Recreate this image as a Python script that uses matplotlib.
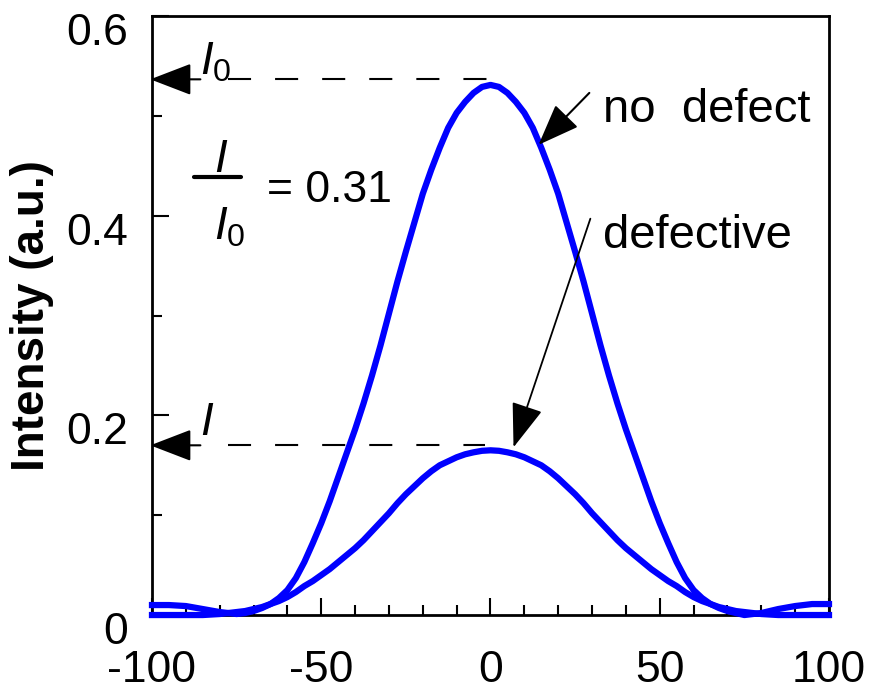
import numpy as np
import matplotlib
matplotlib.use("Agg")
import matplotlib.pyplot as plt
from matplotlib.ticker import MultipleLocator
import matplotlib.transforms as mtransforms

plt.rcParams['font.family'] = ['Liberation Sans', 'DejaVu Sans']
plt.rcParams['mathtext.fontset'] = 'custom'
plt.rcParams['mathtext.rm'] = 'Liberation Sans'
plt.rcParams['mathtext.it'] = 'Liberation Sans:italic'
plt.rcParams['lines.scale_dashes'] = False

# position (x axis) (denser where the curves bend)
position = [-100, -95, -90, -85, -80, -75, -72.5, -70, -67.5, -65, -62.5, -60,
            -57.5, -55, -52.5, -50, -47.5, -45, -42.5, -40, -37.5, -35, -32.5,
            -30, -27.5, -25, -22.5, -20, -17.5, -15, -12.5, -10, -7.5, -5, -2.5,
            0, 2.5, 5, 7.5, 10, 12.5, 15, 17.5, 20, 22.5, 25, 27.5, 30, 32.5,
            35, 37.5, 40, 42.5, 45, 47.5, 50, 52.5, 55, 57.5, 60, 62.5, 65,
            67.5, 70, 72.5, 75, 80, 85, 90, 95, 100]

no_defect = [0.010, 0.010, 0.009, 0.006, 0.003, 0.001, 0.002, 0.004, 0.007, 0.011, 0.017, 0.025,
             0.037, 0.053, 0.072, 0.092, 0.114, 0.138, 0.162, 0.186, 0.212, 0.240, 0.270,
             0.302, 0.334, 0.364, 0.393, 0.422, 0.446, 0.468, 0.488, 0.503, 0.514, 0.523, 0.529,
             0.531, 0.529, 0.523, 0.514, 0.503, 0.488, 0.468, 0.446, 0.422, 0.393, 0.364, 0.334, 0.302, 0.270,
             0.240, 0.212, 0.186, 0.162, 0.138, 0.114, 0.092, 0.072, 0.053, 0.037, 0.025, 0.017, 0.011,
             0.007, 0.004, 0.002, 0.000, 0.002, 0.006, 0.009, 0.011, 0.011]

defective = [0.000, 0.000, 0.000, 0.000, 0.001, 0.003, 0.004, 0.006, 0.008, 0.011, 0.014, 0.018,
             0.023, 0.029, 0.034, 0.040, 0.046, 0.053, 0.060, 0.067, 0.075, 0.084, 0.093,
             0.102, 0.112, 0.121, 0.129, 0.137, 0.144, 0.150, 0.154, 0.158, 0.161, 0.163, 0.1645,
             0.165, 0.1645, 0.163, 0.161, 0.158, 0.154, 0.150, 0.144, 0.137, 0.129, 0.121, 0.112, 0.102, 0.093,
             0.084, 0.075, 0.067, 0.060, 0.053, 0.046, 0.040, 0.034, 0.029, 0.023, 0.018, 0.014, 0.011,
             0.008, 0.006, 0.004, 0.003, 0.001, 0.000, 0.000, 0.000, 0.000]

I0_level = 0.5366
I_level = 0.170

x_ticks = [-100, -50, 0, 50, 100]
x_tick_labels = ['-100', '-50', '0', '50', '100']
y_ticks = [0, 0.2, 0.4, 0.6]
y_tick_labels = ['0', '0.2', '0.4', '0.6']

fig = plt.figure(figsize=(8.73, 6.97), dpi=100)
ax = fig.add_axes([0.1741, 0.1176, 0.7755, 0.8594])

blue = '#0000ff'
ax.plot(position, no_defect, color=blue, lw=4.5, clip_on=False, zorder=3)
ax.plot(position, defective, color=blue, lw=4.5, clip_on=False, zorder=3)

ax.set_xlim(-100, 100)
ax.set_ylim(0, 0.6)

ax.set_xticks(x_ticks)
ax.set_xticklabels(x_tick_labels)
ax.set_yticks(y_ticks)
ax.set_yticklabels(y_tick_labels)
ax.xaxis.set_minor_locator(MultipleLocator(10))
ax.yaxis.set_minor_locator(MultipleLocator(0.1))
ax.tick_params(which='both', direction='in', width=1.5, labelsize=32)
ax.tick_params(which='major', length=12)
ax.tick_params(which='minor', length=7)
ax.tick_params(axis='y', pad=17)
ax.tick_params(axis='x', pad=25)
for s in ax.spines.values():
    s.set_linewidth(2)

ax.set_ylabel('Intensity (a.u.)', fontsize=33, fontweight='bold', labelpad=9)

# dashed guide lines
dash = (0, (16.6, 17.3))
ax.plot([-77.4, -1.0], [I0_level, I0_level], color='k', lw=1.5, linestyle=dash)
ax.plot([-77.4, -1.5], [I_level, I_level], color='k', lw=1.5, linestyle=dash)

head = '-|>,head_length=2.6,head_width=1.0'
ap = dict(arrowstyle=head, color='k', lw=1.5, shrinkA=0, shrinkB=0, mutation_scale=10)
ax.annotate('', xy=(-100.5, I0_level), xytext=(-85.7, I0_level), arrowprops=ap, annotation_clip=False)
ax.annotate('', xy=(-100.5, I_level), xytext=(-85.7, I_level), arrowprops=ap, annotation_clip=False)
ax.annotate('', xy=(14.2, 0.471), xytext=(29.2, 0.523), arrowprops=ap)
ax.annotate('', xy=(6.8, 0.168), xytext=(29.5, 0.397),
            arrowprops=dict(arrowstyle='-|>,head_length=2.8,head_width=1.0', color='k', lw=1.3,
                            shrinkA=0, shrinkB=0, mutation_scale=10))

ax.text(-85.7, 0.541, r'$I_0$', fontsize=33, ha='left', va='baseline')
ax.text(-85.7, 0.180, r'$I$', fontsize=33, ha='left', va='baseline')

# ratio I / I0
ax.text(-79.5, 0.444, r'$I$', fontsize=33, ha='center', va='baseline')
ax.plot([-87.5, -73.8], [0.439, 0.439], color='k', lw=3, solid_capstyle='round')
ax.text(-81.8, 0.376, r'$I_0$', fontsize=33, ha='left', va='baseline')
ax.text(-65.9, 0.414, '= 0.31', fontsize=32, ha='left', va='baseline')

ax.text(33.1, 0.494, 'no  defect', fontsize=34, ha='left', va='baseline')
ax.text(33.1, 0.368, 'defective', fontsize=34, ha='left', va='baseline')

# y tick labels sit a little below their ticks in the original
offset = mtransforms.ScaledTranslation(0, -13 / 100, fig.dpi_scale_trans)
for lab in ax.yaxis.get_majorticklabels():
    lab.set_transform(lab.get_transform() + offset)

fig.savefig('out.png', dpi=100)
